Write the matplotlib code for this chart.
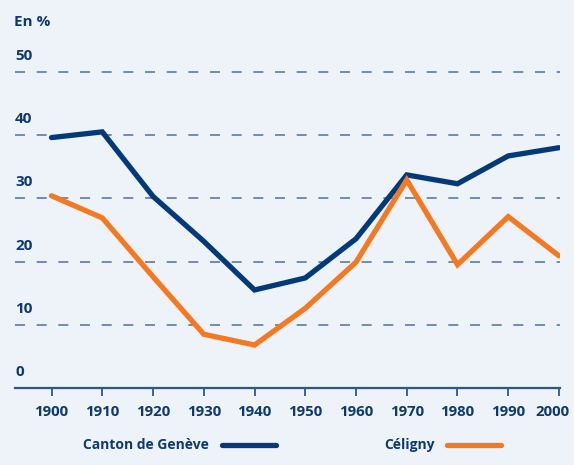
import matplotlib.pyplot as plt
import matplotlib.transforms as mtrans
import numpy as np

NAVY = '#003a7a'
ORANGE = '#f47920'
TEXT_COLOR = '#0d3a72'
GRID_COLOR = '#5a7aa8'
BG_COLOR = '#eef2f9'

years = [1900, 1910, 1920, 1930, 1940, 1950, 1960, 1970, 1980, 1990, 2000]
canton = [39.6, 40.5, 30.3, 23.2, 15.5, 17.4, 23.6, 33.7, 32.3, 36.7, 38.0]
celigny = [30.4, 26.9, 17.6, 8.5, 6.8, 12.6, 19.9, 32.9, 19.5, 27.1, 20.9]
yticks = [0, 10, 20, 30, 40, 50]
series_labels = ['Canton de Genève', 'Céligny']

plt.rcParams['font.family'] = ['Open Sans', 'DejaVu Sans']

fig = plt.figure(figsize=(5.74, 4.65), dpi=100)
fig.patch.set_facecolor(BG_COLOR)

W, H = 574.0, 465.0
ax = fig.add_axes((15 / W, 1 - 388 / H, (560 - 15) / W, (388 - 56) / H))
ax.set_facecolor('none')

ax.set_xlim(1892.8, 2000.2)
ax.set_ylim(0, 52.5)

ax.plot(years, canton, color=NAVY, lw=3.8, solid_capstyle='round',
        solid_joinstyle='miter', zorder=3)
ax.plot(years, celigny, color=ORANGE, lw=3.8, solid_capstyle='round',
        solid_joinstyle='miter', zorder=3)

for v in yticks[1:]:
    ax.axhline(v, color=GRID_COLOR, lw=1.2, dashes=(6, 7), zorder=1)

for s in ['top', 'right', 'left']:
    ax.spines[s].set_visible(False)
ax.spines['bottom'].set_color('#2f5590')
ax.spines['bottom'].set_linewidth(1.6)

ax.set_yticks([])
ax.set_xticks(years)
ax.set_xticklabels([str(y) for y in years], fontsize=10.8, fontweight='bold',
                   color=TEXT_COLOR)
ax.tick_params(axis='x', direction='out', length=6, width=1.3,
               color='#2f5590', pad=6)
# pull the last label in so it stays inside the image
last = ax.get_xticklabels()[-1]
last.set_transform(last.get_transform() +
                   mtrans.ScaledTranslation(-7 / 100, 0, fig.dpi_scale_trans))

# y labels sit just above each gridline
for v in yticks:
    ax.text(0.0, v + 1.4, str(v), transform=ax.get_yaxis_transform(),
            fontsize=11, fontweight='bold', color=TEXT_COLOR,
            ha='left', va='bottom')
fig.text(14 / W, 1 - 22 / H, 'En %', fontsize=11, fontweight='bold',
         color=TEXT_COLOR, ha='left', va='center')

# legend drawn by hand at the bottom
ly = 1 - 445 / H
fig.text(83 / W, ly, series_labels[0], fontsize=10, fontweight='bold',
         color=TEXT_COLOR, ha='left', va='center')
fig.add_artist(plt.Line2D([222 / W, 276 / W], [ly, ly], color=NAVY, lw=3.8,
                          solid_capstyle='round'))
fig.text(384 / W, ly, series_labels[1], fontsize=10, fontweight='bold',
         color=TEXT_COLOR, ha='left', va='center')
fig.add_artist(plt.Line2D([447 / W, 501 / W], [ly, ly], color=ORANGE, lw=3.8,
                          solid_capstyle='round'))

fig.savefig('out.png', dpi=100, facecolor=BG_COLOR)
